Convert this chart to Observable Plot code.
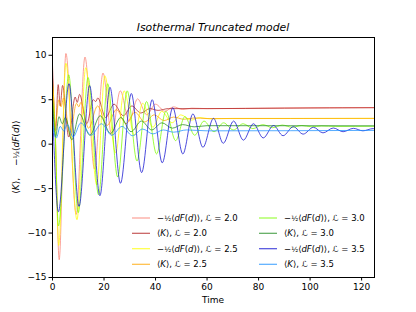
<!DOCTYPE html>
<html>
<head>
<meta charset="utf-8">
<script src="https://cdn.jsdelivr.net/npm/d3@7"></script>
<script src="https://cdn.jsdelivr.net/npm/@observablehq/plot@0.6"></script>
<style>
  html, body { margin: 0; padding: 0; background: #fff; }
  #chart { width: 416px; height: 312px; }
  svg { font-family: "DejaVu Sans", sans-serif; }
</style>
</head>
<body>
<div id="chart"></div>
<script>
// ---- data: [time, value] at turning points ----
const dF_L20 = [[0,7.5],[1.0,2],[2.6,-13.0],[5.2,10.2],[9.2,-7.9],[12.6,9.8],[16.3,-2.8],[19.6,8.0],[23.0,1.0],[26.3,6.0],[29.8,2.6],[33.0,5.1],[36.6,3.3],[40.0,4.5],[43.6,3.7],[47.0,4.2],[50.5,3.9],[54,4.05],[60,4.0],[80,4.05],[100,4.1],[125,4.12]];
const K_L20 = [[0,8.9],[1.2,1.5],[2.2,6.7],[3.0,4.3],[3.9,6.6],[6.3,0.8],[8.8,5.3],[9.6,4.7],[10.5,5.6],[13.3,2.3],[15.8,5.0],[16.8,4.8],[17.6,5.2],[20.6,3.0],[23.9,4.5],[27.5,3.2],[30.8,4.3],[34.3,3.5],[37.8,4.0],[41,3.8],[45,4.0],[60,4.0],[90,4.05],[125,4.1]];
const dF_L25 = [[0,7],[1.0,2],[2.4,-11.4],[5.2,9.1],[9.5,-8.5],[12.9,8.6],[17.2,-4.6],[20.3,7.7],[24.5,-1.0],[27.8,6.0],[31.8,1.0],[35.0,4.6],[39.0,1.9],[42.4,3.7],[46.4,2.4],[49.8,3.3],[53.8,2.7],[57.2,3.0],[61,2.85],[70,2.9],[125,2.9]];
const K_L25 = [[0,6.5],[1.0,2.0],[2.5,5.0],[3.3,4.2],[4.3,5.2],[6.8,1.0],[9.3,4.6],[10.2,4.2],[11,4.7],[14,1.8],[17.5,4.3],[21.2,2.1],[24.8,3.9],[28.5,2.3],[32,3.6],[35.8,2.5],[39.5,3.3],[43.3,2.65],[47,3.05],[51,2.8],[55,2.95],[60,2.88],[125,2.9]];
const dF_L30 = [[0,5],[0.9,2],[2.3,-9.2],[6.3,7.8],[10.0,-7.7],[13.8,7.5],[17.9,-5.7],[21.4,6.8],[25.3,-3.7],[29.0,6.0],[32.8,-1.9],[36.5,4.8],[40.4,-1.1],[44.0,3.7],[47.8,0.4],[51.4,3.1],[55.2,1.0],[58.8,2.6],[62.7,1.4],[66.4,2.4],[70.2,1.6],[74,2.3],[77.8,1.75],[81.6,2.2],[85.4,1.85],[89.2,2.15],[93,1.9],[96.8,2.1],[100.6,1.95],[104.4,2.05],[110,2.0],[125,2.02]];
const K_L30 = [[0,5],[1.2,0.8],[2.5,3.1],[3.8,2.3],[5,3.0],[7.5,0.5],[10.5,3.4],[14.5,1.0],[18.5,3.2],[22.5,1.2],[26.5,3.0],[30.5,1.4],[34.5,2.6],[38.5,1.6],[42.5,2.4],[46.5,1.8],[50.5,2.2],[55,1.95],[60,2.08],[125,2.06]];
const dF_L35 = [[0,4],[2.3,-7.6],[6.4,6.8],[10.3,-7.0],[14.4,6.6],[18.4,-5.8],[22.3,6.4],[26.4,-4.4],[30.6,5.7],[34.6,-3.2],[38.7,5.0],[42.6,-2.1],[46.7,4.1],[50.6,-1.1],[54.5,3.4],[58.4,-0.35],[62.5,2.9],[66.3,0.1],[70.3,2.6],[74.1,0.45],[78,2.3],[81.8,0.7],[85.8,2.1],[89.5,0.95],[93.5,1.97],[97.3,1.13],[101.3,1.9],[105,1.27],[109,1.82],[112.8,1.4],[116.8,1.78],[120.5,1.5],[124.4,1.75],[125,1.74]];
const K_L35 = [[0,2.2],[1.5,0.7],[3,2.0],[4.3,1.5],[5.8,2.2],[8,0.8],[11,2.4],[15,1.0],[19,2.3],[23,1.0],[27,2.0],[31,0.95],[35,1.7],[39,1.15],[43,1.6],[47,1.35],[52,1.6],[60,1.5],[125,1.55]];

const seriesData = [dF_L20, K_L20, dF_L25, K_L25, dF_L30, K_L30, dF_L35, K_L35];
const seriesKind = ["dF", "K", "dF", "K", "dF", "K", "dF", "K"];
const seriesL = ["2.0", "2.0", "2.5", "2.5", "3.0", "3.0", "3.5", "3.5"];
const seriesColors = ["salmon", "#b22222", "#ffff00", "#ffa500", "#7cfc00", "#228b22", "#1010d0", "#1e90ff"];

const xTicks = [0, 20, 40, 60, 80, 100, 120];
const yTicks = [-15, -10, -5, 0, 5, 10];
const titleText = "Isothermal Truncated model";
const xLabel = "Time";

// ---- chart ----
const W = 416, H = 312;
const M = {left: 52, right: 42, top: 37, bottom: 35};
const fmt = d => d < 0 ? "\u2212" + Math.abs(d) : String(d);

const marks = seriesData.map((data, i) =>
  Plot.line(data, {
    x: d => d[0], y: d => d[1],
    stroke: seriesColors[i], strokeWidth: 1, strokeOpacity: 0.75,
    curve: "monotone-x", clip: true
  })
);
marks.push(Plot.frame({stroke: "black", strokeWidth: 1}));

const chart = Plot.plot({
  width: W, height: H,
  marginLeft: M.left, marginRight: M.right, marginTop: M.top, marginBottom: M.bottom,
  style: {fontFamily: "DejaVu Sans, sans-serif", fontSize: "9px", background: "white", color: "black"},
  x: {domain: [0, 125], ticks: xTicks, tickSize: 3.5, tickPadding: 2.5, tickFormat: fmt, label: null},
  y: {domain: [-15, 12], ticks: yTicks, tickSize: 3.5, tickPadding: 2.5, tickFormat: fmt, label: null},
  marks
});
document.getElementById("chart").appendChild(chart);

const svg = d3.select(chart);
const cx = M.left + (W - M.left - M.right) / 2;

// title
svg.append("text").attr("x", cx).attr("y", 30.5).attr("text-anchor", "middle")
  .attr("font-size", "10.8px").attr("font-style", "italic").attr("fill", "black").text(titleText);
// x label
svg.append("text").attr("x", cx).attr("y", 303).attr("text-anchor", "middle")
  .attr("font-size", "9px").attr("fill", "black").text(xLabel);

// helper to write math-ish labels
function writeLabel(sel, kind, L) {
  if (kind === "dF") {
    sel.append("tspan").text("\u2212");
    sel.append("tspan").attr("font-size", "0.85em").text("\u00bd");
    sel.append("tspan").text("\u27e8");
    sel.append("tspan").attr("font-style", "italic").text("dF");
    sel.append("tspan").text("(");
    sel.append("tspan").attr("font-style", "italic").text("d");
    sel.append("tspan").text(")\u27e9");
  } else {
    sel.append("tspan").text("\u27e8");
    sel.append("tspan").attr("font-style", "italic").text("K");
    sel.append("tspan").text("\u27e9");
  }
  if (L !== null) {
    sel.append("tspan").text(", ");
    sel.append("tspan").attr("font-style", "italic").text("\u2112");
    sel.append("tspan").text(" = " + L);
  }
}

// y label
const yl = svg.append("text").attr("transform", `translate(19,${(M.top + H - M.bottom) / 2}) rotate(-90)`)
  .attr("text-anchor", "middle").attr("font-size", "9px").attr("fill", "black");
writeLabel(yl, "K", null);
yl.append("tspan").text(",\u2003 ");
writeLabel(yl, "dF", null);

// legend
const legCols = [{lx: 132, tx: 157}, {lx: 259, tx: 284}];
const legRows = [218, 233.3, 248.7, 264.3];
const lg = svg.append("g").attr("font-size", "8.5px").attr("text-anchor", "start");
seriesData.forEach((_, i) => {
  const c = legCols[Math.floor(i / 4)], y = legRows[i % 4];
  lg.append("line").attr("x1", c.lx).attr("x2", c.lx + 18).attr("y1", y).attr("y2", y)
    .attr("stroke", seriesColors[i]).attr("stroke-width", 1.2).attr("stroke-opacity", 0.75);
  const t = lg.append("text").attr("x", c.tx).attr("y", y).attr("dy", "0.35em")
    .attr("text-anchor", "start").attr("fill", "black");
  writeLabel(t, seriesKind[i], seriesL[i]);
});
</script>
</body>
</html>
